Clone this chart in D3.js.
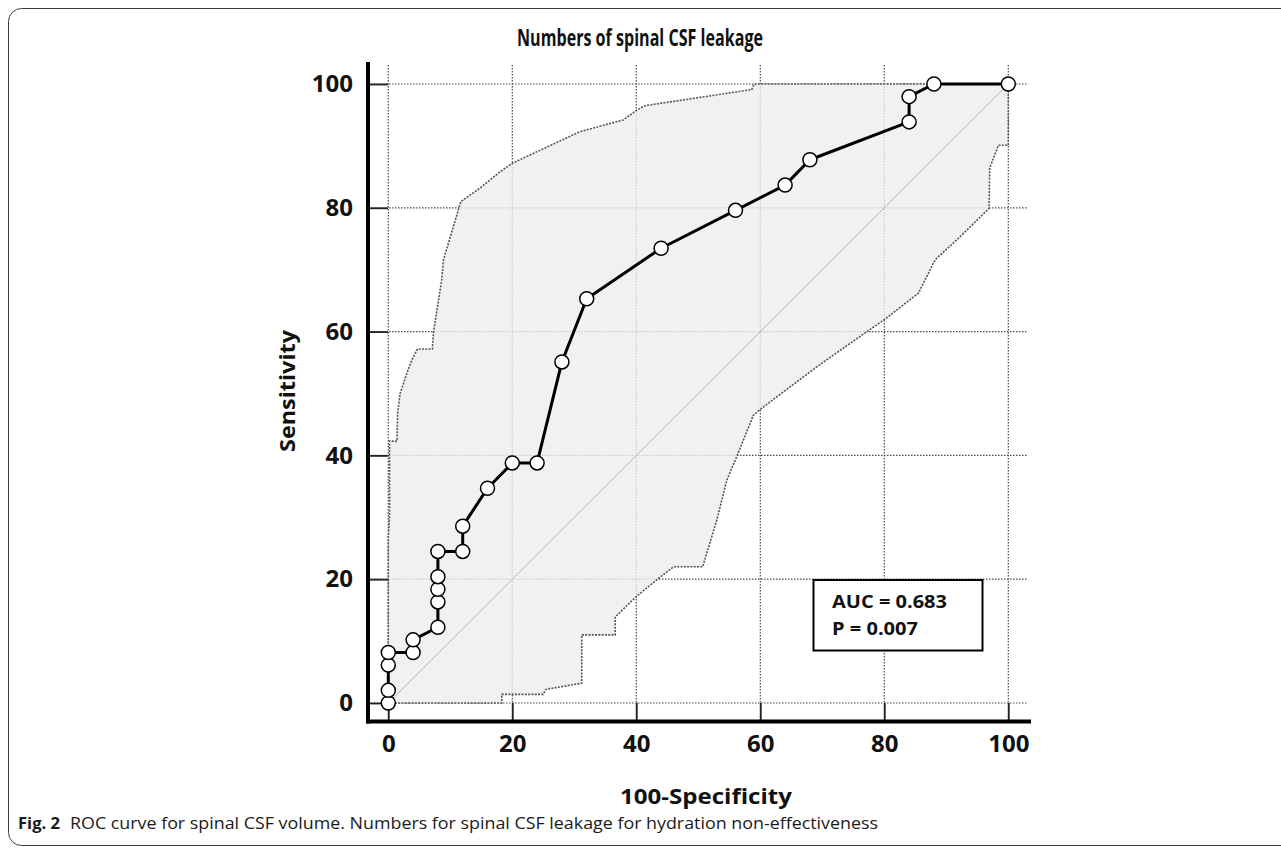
<!DOCTYPE html>
<html>
<head>
<meta charset="utf-8">
<script src="https://cdn.jsdelivr.net/npm/d3@7"></script>
<style>
  html, body { margin: 0; padding: 0; background: #fff; }
  svg { display: block; }
  text { font-family: "Open Sans", "Noto Sans", sans-serif; }
</style>
</head>
<body>
<svg id="chart" width="1281" height="850"></svg>
<script>
// ---------- data ----------
const rocX = [0, 0, 0, 0, 4, 4, 8, 8, 8, 8, 8, 12, 12, 16, 20, 24, 28, 32, 44, 56, 64, 68, 84, 84, 88, 100];
const rocY = [0, 2.04, 6.12, 8.16, 8.16, 10.2, 12.24, 16.33, 18.37, 20.41, 24.49, 24.49, 28.57, 34.69, 38.78, 38.78, 55.1, 65.31, 73.47, 79.59, 83.67, 87.76, 93.88, 97.96, 100, 100];

const upperX = [0, 0, 0.2, 0.2, 1.4, 1.5, 1.9, 3, 3.8, 4.7, 7.1, 7.3, 8.1, 8.6, 8.9, 11.7, 14.8, 18, 20, 30.9, 37.9, 40.1, 41.4, 58.6, 59, 100];
const upperY = [0, 27, 30, 42.3, 42.3, 46.8, 50, 53.3, 55.4, 57.2, 57.2, 60, 65.1, 68.3, 71.6, 81, 83.2, 85.8, 87.2, 92.3, 94.2, 95.8, 96.5, 99.1, 100, 100];

const lowerX = [0, 18.3, 18.3, 25, 25.4, 31.2, 31.2, 36.6, 36.6, 40, 43.3, 46, 50.7, 53, 54.6, 56.2, 58.9, 60.2, 69.1, 77.2, 80.1, 85.5, 88.2, 92.2, 96.9, 97, 98.4, 100, 100];
const lowerY = [0, 0, 1.4, 1.4, 2.2, 3.2, 11, 11, 13.9, 17.2, 19.9, 22, 22, 29.6, 36, 39.8, 46.5, 47.6, 54.3, 60, 62, 66.2, 71.6, 75.3, 79.9, 86.4, 90.1, 90.1, 100];

const xTicks = [0, 20, 40, 60, 80, 100];
const yTicks = [0, 20, 40, 60, 80, 100];

const titleText = "Numbers of spinal CSF leakage";
const xLabel = "100-Specificity";
const yLabel = "Sensitivity";
const legendLines = ["AUC = 0.683", "P = 0.007"];
const captionBold = "Fig. 2";
const captionText = "ROC curve for spinal CSF volume. Numbers for spinal CSF leakage for hydration non-effectiveness";

// ---------- layout ----------
const svg = d3.select("#chart");
const x = d3.scaleLinear().domain([0, 100]).range([388.3, 1008.3]);
const y = d3.scaleLinear().domain([0, 100]).range([703, 84]);
const axisX = 368;     // y-axis line position
const axisY = 721.5;   // x-axis line position
const plotTop = 65;
const plotRight = 1028;

// outer frame
svg.append("rect")
  .attr("x", 8.5).attr("y", 8.5)
  .attr("width", 1300).attr("height", 837)
  .attr("rx", 13).attr("ry", 13)
  .attr("fill", "none").attr("stroke", "#3a3a3a").attr("stroke-width", 1);

// gridlines
const grid = svg.append("g");
grid.selectAll("line.v").data(xTicks).join("line")
  .attr("x1", d => x(d)).attr("x2", d => x(d))
  .attr("y1", plotTop).attr("y2", axisY)
  .attr("stroke", "#4a4a4a").attr("stroke-width", 1.2)
  .attr("stroke-dasharray", "1.5,1.5");
grid.selectAll("line.h").data(yTicks).join("line")
  .attr("x1", axisX).attr("x2", plotRight)
  .attr("y1", d => y(d)).attr("y2", d => y(d))
  .attr("stroke", "#4a4a4a").attr("stroke-width", 1.2)
  .attr("stroke-dasharray", "1.5,1.5");

// confidence band
const upper = upperX.map((v, i) => [v, upperY[i]]);
const lower = lowerX.map((v, i) => [v, lowerY[i]]);
const line = d3.line().x(d => x(d[0])).y(d => y(d[1]));
const polygon = upper.concat(lower.slice().reverse());
svg.append("path")
  .attr("d", line(polygon) + "Z")
  .attr("fill", "#ededed").attr("fill-opacity", 0.8);

// diagonal reference
svg.append("line")
  .attr("x1", x(0)).attr("y1", y(0)).attr("x2", x(100)).attr("y2", y(100))
  .attr("stroke", "#b5b5b5").attr("stroke-width", 1);

// band edges
[upper, lower].forEach(pts => {
  svg.append("path")
    .attr("d", line(pts))
    .attr("fill", "none").attr("stroke", "#555").attr("stroke-width", 1.6)
    .attr("stroke-dasharray", "2,1.3");
});

// axes
const yAxis = d3.axisLeft(y).tickValues(yTicks).tickSize(-20).tickSizeOuter(0).tickPadding(15);
const gy = svg.append("g").attr("transform", `translate(${axisX},0)`).call(yAxis);
gy.select(".domain").remove();
gy.selectAll(".tick line").attr("stroke", "#222").attr("stroke-width", 1.8);
gy.selectAll(".tick text")
  .attr("font-family", "'Open Sans', sans-serif")
  .attr("font-weight", "bold").attr("font-size", 24).attr("fill", "#111");

const xAxis = d3.axisBottom(x).tickValues(xTicks).tickSize(-18.5).tickSizeOuter(0).tickPadding(13);
const gx = svg.append("g").attr("transform", `translate(0,${axisY})`).call(xAxis);
gx.select(".domain").remove();
gx.selectAll(".tick line").attr("stroke", "#222").attr("stroke-width", 1.8);
gx.selectAll(".tick text")
  .attr("font-family", "'Open Sans', sans-serif")
  .attr("font-weight", "bold").attr("font-size", 24).attr("fill", "#111");

// thick axis lines
svg.append("line").attr("x1", axisX).attr("x2", axisX).attr("y1", 62).attr("y2", axisY + 2)
  .attr("stroke", "#000").attr("stroke-width", 4);
svg.append("line").attr("x1", axisX - 2).attr("x2", 1031).attr("y1", axisY).attr("y2", axisY)
  .attr("stroke", "#000").attr("stroke-width", 4);

// ROC curve
const roc = rocX.map((v, i) => [v, rocY[i]]);
svg.append("path").attr("d", line(roc))
  .attr("fill", "none").attr("stroke", "#000").attr("stroke-width", 3)
  .attr("stroke-linejoin", "round");
svg.append("g").selectAll("circle").data(roc).join("circle")
  .attr("cx", d => x(d[0])).attr("cy", d => y(d[1])).attr("r", 7)
  .attr("fill", "#fff").attr("stroke", "#000").attr("stroke-width", 1.5);

// legend box
svg.append("rect")
  .attr("x", 813.5).attr("y", 580).attr("width", 169).attr("height", 70.5)
  .attr("fill", "#fff").attr("stroke", "#000").attr("stroke-width", 2);
svg.append("g").selectAll("text").data(legendLines).join("text")
  .attr("x", 832).attr("y", (d, i) => 608 + i * 27)
  .attr("font-weight", "bold").attr("font-size", 18).attr("fill", "#111")
  .attr("textLength", (d, i) => i === 0 ? 115 : 86)
  .attr("lengthAdjust", "spacingAndGlyphs")
  .text(d => d);

// title
svg.append("text")
  .attr("x", 640).attr("y", 46).attr("text-anchor", "middle")
  .attr("font-weight", "bold").attr("font-size", 23).attr("fill", "#111")
  .attr("textLength", 246).attr("lengthAdjust", "spacingAndGlyphs")
  .text(titleText);

// axis titles
svg.append("text")
  .attr("x", 706).attr("y", 804).attr("text-anchor", "middle")
  .attr("font-weight", "bold").attr("font-size", 22).attr("fill", "#111")
  .attr("textLength", 172).attr("lengthAdjust", "spacingAndGlyphs")
  .text(xLabel);
svg.append("text")
  .attr("transform", "translate(295,391) rotate(-90)")
  .attr("text-anchor", "middle")
  .attr("font-weight", "bold").attr("font-size", 22).attr("fill", "#111")
  .attr("textLength", 122).attr("lengthAdjust", "spacingAndGlyphs")
  .text(yLabel);

// caption
svg.append("text")
  .attr("x", 18).attr("y", 829)
  .attr("font-weight", "bold").attr("font-size", 16).attr("fill", "#1a1a1a")
  .attr("textLength", 42).attr("lengthAdjust", "spacingAndGlyphs")
  .text(captionBold);
svg.append("text")
  .attr("x", 70).attr("y", 829)
  .attr("font-size", 16).attr("fill", "#1a1a1a")
  .attr("textLength", 808).attr("lengthAdjust", "spacingAndGlyphs")
  .text(captionText);
</script>
</body>
</html>
